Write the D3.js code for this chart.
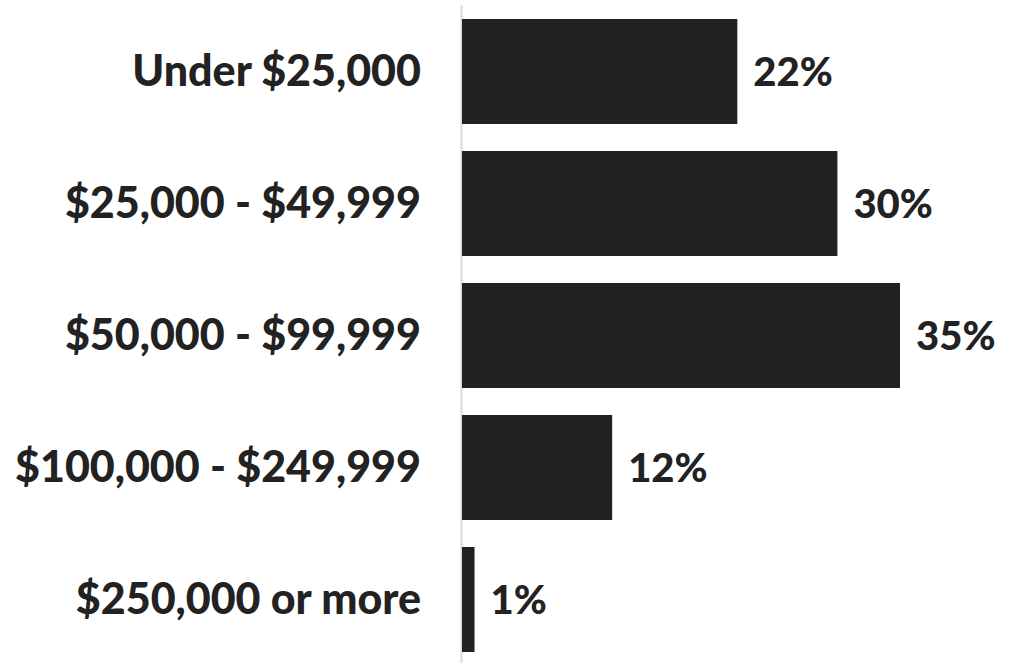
<!DOCTYPE html>
<html>
<head>
<meta charset="utf-8">
<script src="https://cdn.jsdelivr.net/npm/d3@7"></script>
<style>
  html, body { margin: 0; padding: 0; background: #fff; }
  svg { display: block; }
  text { font-family: "Lato", "Open Sans", sans-serif; font-weight: 900; fill: #222; }
</style>
</head>
<body>
<svg id="chart" width="1021" height="663"></svg>
<script>
// Household income brackets and share of respondents (%)
const categories = [
  "Under $25,000",
  "$25,000 - $49,999",
  "$50,000 - $99,999",
  "$100,000 - $249,999",
  "$250,000 or more"
];
const shares = [22, 30, 35, 12, 1];

const width = 1021, height = 663;
const x0 = 462;
const svg = d3.select("#chart");

const x = d3.scaleLinear().domain([0, 35]).range([x0, 900]);
const y = d3.scaleBand().domain(categories).range([19, 652]).paddingInner(27 / 132).paddingOuter(0);

// baseline rule
svg.append("line")
  .attr("x1", x0 - 0.5).attr("x2", x0 - 0.5)
  .attr("y1", 5).attr("y2", height)
  .attr("stroke", "#d9d9d9").attr("stroke-width", 2);

// bars
svg.selectAll("rect.bar")
  .data(categories)
  .join("rect")
  .attr("class", "bar")
  .attr("x", x(0))
  .attr("y", d => y(d))
  .attr("width", (d, i) => x(shares[i]) - x(0))
  .attr("height", y.bandwidth())
  .attr("fill", "#222");

// category labels
svg.selectAll("text.cat")
  .data(categories)
  .join("text")
  .attr("class", "cat")
  .attr("x", 421)
  .attr("y", d => y(d) + y.bandwidth() / 2 + 14)
  .attr("text-anchor", "end")
  .attr("font-size", 43)
  .text(d => d);

// value labels
svg.selectAll("text.val")
  .data(categories)
  .join("text")
  .attr("class", "val")
  .attr("x", (d, i) => x(shares[i]) + 16)
  .attr("y", d => y(d) + y.bandwidth() / 2 + 14)
  .attr("font-size", 40)
  .text((d, i) => shares[i] + "%");
</script>
</body>
</html>
